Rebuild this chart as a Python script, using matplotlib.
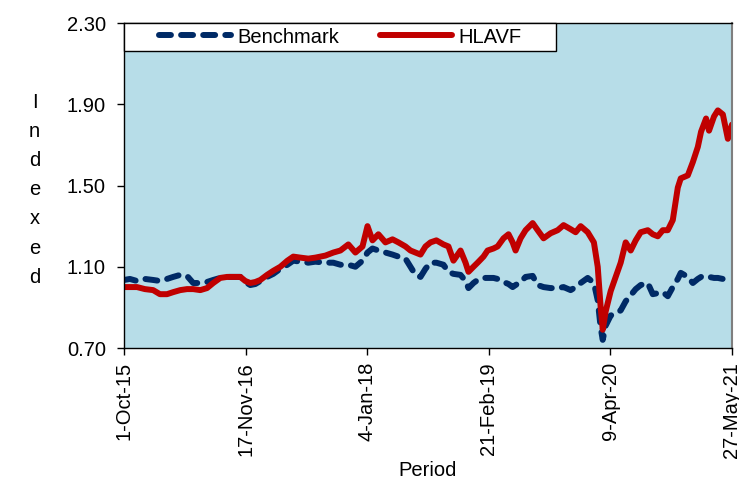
import matplotlib
matplotlib.use("Agg")
import matplotlib.pyplot as plt
from matplotlib.patches import Rectangle
import pandas as pd

plt.rcParams['font.family'] = ['Liberation Sans', 'DejaVu Sans']

# dates
dates = ["2015-10-01", "2015-10-21", "2015-11-14", "2015-12-11", "2016-01-08", "2016-01-31",
         "2016-02-24", "2016-03-16", "2016-04-09", "2016-05-02", "2016-05-23", "2016-06-16",
         "2016-07-09", "2016-07-30", "2016-08-23", "2016-09-15", "2016-10-06", "2016-10-30",
         "2016-11-16", "2016-12-03", "2016-12-20", "2017-01-06", "2017-01-29", "2017-02-19",
         "2017-03-15", "2017-04-08", "2017-04-28", "2017-05-22", "2017-06-18", "2017-07-12",
         "2017-08-15", "2017-09-11", "2017-10-05", "2017-11-01", "2017-11-25", "2017-12-19",
         "2018-01-05", "2018-01-22", "2018-02-11", "2018-03-07", "2018-03-31", "2018-04-20",
         "2018-05-14", "2018-05-31", "2018-06-17", "2018-07-04", "2018-07-21", "2018-08-07",
         "2018-08-27", "2018-09-20", "2018-10-07", "2018-10-24", "2018-11-17", "2018-12-04",
         "2018-12-14", "2018-12-31", "2019-01-14", "2019-02-03", "2019-02-17", "2019-03-09",
         "2019-03-23", "2019-04-12", "2019-04-29", "2019-05-13", "2019-05-23", "2019-06-09",
         "2019-06-26", "2019-07-20", "2019-08-06", "2019-08-26", "2019-09-19", "2019-10-13",
         "2019-11-02", "2019-11-26", "2019-12-13", "2019-12-30", "2020-01-23", "2020-02-13",
         "2020-02-26", "2020-03-07", "2020-03-14", "2020-03-24", "2020-04-10", "2020-04-27",
         "2020-05-14", "2020-05-31", "2020-06-17", "2020-07-04", "2020-07-21", "2020-08-14",
         "2020-08-31", "2020-09-17", "2020-10-04", "2020-10-21", "2020-11-07", "2020-11-24",
         "2020-12-04", "2020-12-28", "2021-01-14", "2021-01-31", "2021-02-11", "2021-02-28",
         "2021-03-10", "2021-03-27", "2021-04-09", "2021-04-26", "2021-05-13", "2021-05-27"]

hlavf = [1.00, 1.00, 1.00, 0.99, 0.985, 0.965, 0.965, 0.975, 0.985, 0.99, 0.99, 0.985,
         0.995, 1.02, 1.045, 1.05, 1.05, 1.05, 1.03, 1.02, 1.025, 1.035, 1.06, 1.08,
         1.10, 1.13, 1.15, 1.145, 1.14, 1.145, 1.155, 1.17, 1.18, 1.21, 1.17, 1.20,
         1.30, 1.23, 1.26, 1.22, 1.235, 1.22, 1.20, 1.18, 1.17, 1.16, 1.20, 1.22,
         1.23, 1.21, 1.20, 1.13, 1.18, 1.12, 1.075, 1.10, 1.12, 1.15, 1.18, 1.19,
         1.20, 1.24, 1.26, 1.22, 1.18, 1.24, 1.28, 1.315, 1.28, 1.24, 1.265, 1.28,
         1.305, 1.285, 1.27, 1.30, 1.27, 1.22, 1.10, 0.90, 0.79, 0.88, 0.98, 1.05,
         1.12, 1.22, 1.18, 1.23, 1.27, 1.28, 1.26, 1.25, 1.28, 1.28, 1.33, 1.49,
         1.535, 1.55, 1.615, 1.69, 1.765, 1.83, 1.77, 1.84, 1.87, 1.85, 1.73, 1.80]

benchmark = [1.035, 1.04, 1.03, 1.04, 1.035, 1.03, 1.04, 1.05, 1.06, 1.055, 1.02, 1.02,
             1.025, 1.035, 1.045, 1.05, 1.05, 1.05, 1.025, 1.01, 1.015, 1.03, 1.05, 1.065,
             1.09, 1.11, 1.13, 1.125, 1.12, 1.125, 1.12, 1.12, 1.11, 1.11, 1.10, 1.13,
             1.17, 1.19, 1.18, 1.17, 1.16, 1.15, 1.14, 1.10, 1.06, 1.05, 1.09, 1.12,
             1.12, 1.11, 1.075, 1.065, 1.06, 1.03, 0.995, 1.02, 1.035, 1.045, 1.045, 1.045,
             1.04, 1.025, 1.015, 1.00, 1.01, 1.025, 1.05, 1.055, 1.01, 1.00, 0.995, 0.995,
             1.00, 0.985, 1.00, 1.02, 1.045, 1.02, 0.935, 0.80, 0.74, 0.81, 0.86, 0.87,
             0.885, 0.93, 0.96, 0.99, 1.01, 1.02, 0.965, 0.97, 0.975, 0.955, 1.00, 1.04,
             1.07, 1.05, 1.02, 1.04, 1.05, 1.055, 1.05, 1.045, 1.045, 1.04, 1.03, 1.025]

tick_dates = ["2015-10-01", "2016-11-17", "2018-01-04", "2019-02-21", "2020-04-09", "2021-05-27"]
tick_labels = ["1-Oct-15", "17-Nov-16", "4-Jan-18", "21-Feb-19", "9-Apr-20", "27-May-21"]
y_ticks = [0.70, 1.10, 1.50, 1.90, 2.30]

x = pd.to_datetime(dates)
fs = 14.5

fig = plt.figure(figsize=(7.39, 4.8), dpi=100)
ax = fig.add_axes([0.1678, 0.275, 0.8227, 0.677])
ax.set_facecolor("#B7DDE8")

ax.plot(x, benchmark, color="#002A66", lw=4.3, linestyle=(0, (2.0, 1.7)),
        dash_capstyle="round", label="Benchmark")
ax.plot(x, hlavf, color="#C00000", lw=4.3, solid_capstyle="round",
        solid_joinstyle="round", label="HLAVF")

ax.set_xlim(pd.Timestamp(tick_dates[0]), pd.Timestamp(tick_dates[-1]))
ax.set_ylim(0.70, 2.30)
ax.set_yticks(y_ticks)
ax.set_yticklabels(["%.2f" % v for v in y_ticks], fontsize=fs)
ax.set_xticks(pd.to_datetime(tick_dates))
ax.set_xticklabels(tick_labels, rotation=90, fontsize=fs)
ax.tick_params(direction="out", length=5, width=1, color="black")
ax.tick_params(axis="y", pad=8)
ax.tick_params(axis="x", pad=5)

for s in ["left", "bottom", "top"]:
    ax.spines[s].set_color("black")
    ax.spines[s].set_linewidth(1)
ax.spines["right"].set_color("#7f7f7f")
ax.spines["right"].set_linewidth(1.5)

ax.set_xlabel("Period", fontsize=fs, labelpad=2)
fig.text(0.047, 0.605, "I\nn\nd\ne\nx\ne\nd", fontsize=fs, ha="center", va="center",
         linespacing=1.68)

# white legend box across the top left of the plot
box_w = 0.711
box_h = 0.086
ax.add_patch(Rectangle((0, 1 - box_h), box_w, box_h, transform=ax.transAxes,
                       facecolor="white", edgecolor="black", lw=1, zorder=5, clip_on=False))
leg = ax.legend(loc="center", bbox_to_anchor=(box_w / 2, 1 - box_h / 2), ncol=2,
                frameon=False, fontsize=fs, handlelength=3.6, handletextpad=0.3,
                borderpad=0, borderaxespad=0, columnspacing=2.0)
leg.set_zorder(6)

fig.savefig("out.png", dpi=100)
